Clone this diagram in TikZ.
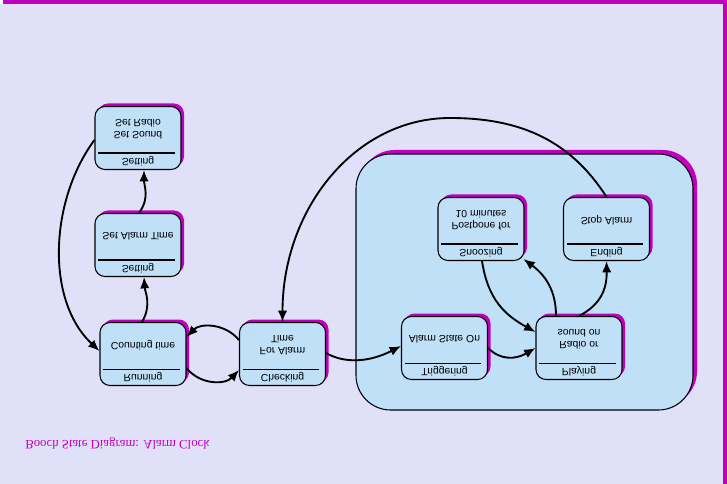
\documentclass[tikz,border=0pt]{standalone}
\usepackage{fontspec}
\setmainfont{Liberation Sans}
\newfontfamily\titlefont{Liberation Serif}
\usetikzlibrary{arrows.meta,calc}
\definecolor{bgc}{HTML}{E0E0F8}
\definecolor{boxc}{HTML}{C0E0F8}
\definecolor{mag}{HTML}{C000C0}
\tikzset{
 statebox/.style={draw=black,line width=0.8pt,fill=boxc,rounded corners=7.5pt,minimum width=64.5pt,minimum height=47.25pt,inner sep=0pt},
 lbl/.style={transform shape,inner sep=0pt,font=\fontsize{7.8}{9.2}\selectfont,align=center},
 conn/.style={line width=1.4pt,-{Latex[length=8.5pt,width=7pt]}},
 shad/.style={fill=mag,rounded corners=7.5pt},
}
\newcommand\boochstate[5]{%
 \fill[shad] (#2-40,#3-34.5) rectangle (#2+46,#3+28.5);
 \node[statebox] (#1) at (#2,#3) {};
 \draw[line width=0.8pt] ($(#1.south west)+(4,-17)$) -- ($(#1.south east)+(-7,-17)$);
 \node[lbl] at ($(#1.south)+(0,-8.5)$) {#4};
 \node[lbl] at ($(#1.north)+(0,23)$) {#5};
}
\begin{document}
\begin{tikzpicture}[x=0.75pt,y=0.75pt,yscale=-1]
\useasboundingbox (0,0) rectangle (727,484);
\fill[mag] (3,0) rectangle (727,484);
\fill[bgc] (0,4) rectangle (723,484);
% super state
\fill[mag,rounded corners=26pt] (360,150) rectangle (697,406);
\node[draw,line width=0.8pt,fill=boxc,rounded corners=26pt,minimum width=252.75pt,minimum height=192pt,inner sep=0pt] (alarmon) at (524.5,282) {};
% states
\boochstate{sradio}{138}{138}{Setting}{Set Sound\\Set Radio}
\boochstate{salarm}{138}{245}{Setting}{Set Alarm Time}
\boochstate{run}{143}{354}{Running}{Counting time}
\boochstate{chk}{282.5}{354}{Checking}{For Alarm\\Time}
\boochstate{trig}{444.5}{348}{Triggering}{Alarm State On}
\boochstate{play}{579}{348}{Playing}{Radio or\\sound on}
\boochstate{snooze}{481}{229}{Snoozing}{Postpone for\\10 minutes}
\boochstate{ending}{606.5}{229}{Ending}{Stop Alarm}
% title
\node[transform shape,anchor=west,inner sep=0pt,text=mag,font=\titlefont\fontsize{9.6}{11}\selectfont] (title) at (25,444) {Booch State Diagram: Alarm Clock};
% connectors
\draw[conn] ($(sradio.west)+(0,2)$) .. controls (50,200) and (45,300) .. ($(run.west)+(0,-3)$);
\draw[conn] ($(run.north)+(-1,0)$) .. controls (152,305) and (145,292) .. ($(salarm.south)+(6,0)$);
\draw[conn] ($(salarm.north)+(1,0)$) .. controls (150,198) and (144,186) .. ($(sradio.south)+(6,0)$);
\draw[conn] ($(chk.west)+(0,-14)$) .. controls (225,323) and (200,323) .. ($(run.east)+(0,-17)$);
\draw[conn] ($(run.east)+(0,14)$) .. controls (200,385) and (225,385) .. ($(chk.west)+(0,16)$);
\draw[conn] ($(chk.east)+(0,-1)$) .. controls (345,364) and (370,362) .. ($(trig.west)+(0,-2)$);
\draw[conn] (trig.east) .. controls (500,360) and (515,360) .. (play.west);
\draw[conn] ($(snooze.south)+(1,0)$) .. controls (488,300) and (505,315) .. ($(play.west)+(0,-16)$);
\draw[conn] ($(play.north)+(-23,0)$) .. controls (556,290) and (545,275) .. ($(snooze.south east)+(-1,-2)$);
\draw[conn] (play.north) .. controls (600,305) and (607,290) .. (ending.south);
\draw[conn] (ending.north) .. controls (570,140) and (520,118) .. (450,118) .. controls (355,118) and (282.5,209) .. (chk.north);
\end{tikzpicture}
\end{document}
